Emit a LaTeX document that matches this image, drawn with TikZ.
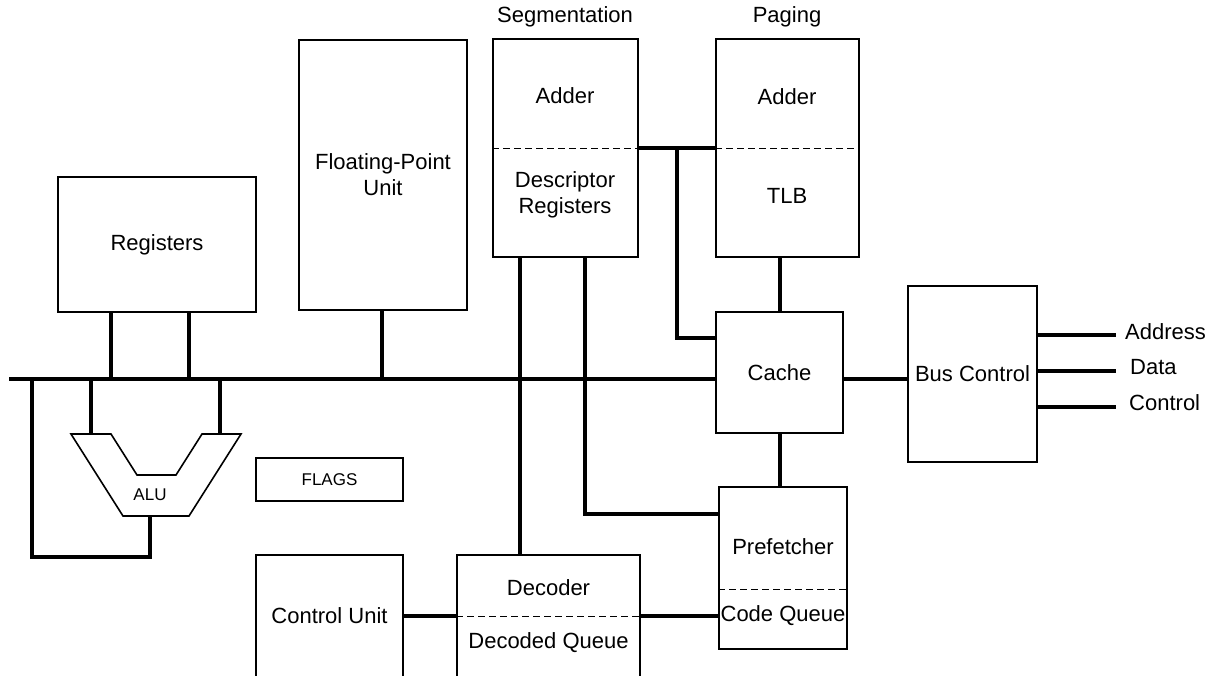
\documentclass[tikz,border=0pt]{standalone}
\usepackage{fontspec}
\setmainfont{Liberation Sans}
\usetikzlibrary{positioning,calc}
\tikzset{
  every node/.style={font=\fontsize{22}{26}\selectfont,align=center},
  unit/.style={draw,line width=1.6pt,inner sep=0pt,fill=white},
  smalltext/.style={font=\fontsize{17}{20}\selectfont},
  wire/.style={line width=4pt},
  divider/.style={line width=0.8pt,dash pattern=on 7pt off 4pt},
  outline/.style={line width=1.6pt,line join=miter},
  pinlabel/.style={anchor=west,inner sep=0pt}
}

\begin{document}
\begin{tikzpicture}[x=1pt,y=-1pt]
  \useasboundingbox (0,0) rectangle (1222,675);
  \clip (0,0) rectangle (1222,675);

  % functional units
  \node[unit,minimum width=198pt,minimum height=135pt] (regs) at (157,244.5) {Registers};
  \node[unit,minimum width=168pt,minimum height=270pt] (fpu) at (383,175) {Floating-Point\\Unit};
  \node[unit,minimum width=145pt,minimum height=218pt] (seg) at (565.5,148) {};
  \node[unit,minimum width=143pt,minimum height=218pt] (pag) at (787.5,148) {};
  \node[unit,minimum width=127pt,minimum height=121pt] (cache) at (779.5,372.5) {Cache};
  \node[unit,minimum width=129pt,minimum height=176pt] (busctl) at (972.5,374) {Bus Control};
  \node[unit,smalltext,minimum width=147pt,minimum height=43pt] (flags) at (329.5,479.5) {FLAGS};
  \node[unit,minimum width=147pt,minimum height=122pt] (ctrl) at (329.5,616) {Control Unit};
  \node[unit,minimum width=183pt,minimum height=122pt] (dec) at (548.5,616) {};
  \node[unit,minimum width=128pt,minimum height=162pt] (pref) at (783,568) {};

  % titles and inner labels
  \node (seglbl) at (565,17) {Segmentation};
  \node (paglbl) at (787,17) {Paging};
  \node (segadd) at (565,96) {Adder};
  \node (segdesc) at (565,195) {Descriptor\\Registers};
  \node (pagadd) at (787,97) {Adder};
  \node (tlb) at (787,196) {TLB};
  \node (decname) at (548.5,588) {Decoder};
  \node (decq) at (548.5,643) {Decoded Queue};
  \node (prefname) at (783,547) {Prefetcher};
  \node (codeq) at (783,616) {Code Queue};

  \coordinate (prefdiv) at (783,589);
  \draw[divider] (seg.west) -- (seg.east);
  \draw[divider] (pag.west) -- (pag.east);
  \draw[divider] (dec.west) -- (dec.east);
  \draw[divider] (pref.west |- prefdiv) -- (pref.east |- prefdiv);

  % internal bus
  \coordinate (busstart) at (9,379);
  \coordinate (rtap1) at (111,379);
  \coordinate (rtap2) at (189,379);
  \coordinate (ftap) at (382,379);
  \draw[wire] (busstart) -- (cache.west |- busstart);
  \draw[wire] (regs.south -| rtap1) -- (rtap1);
  \draw[wire] (regs.south -| rtap2) -- (rtap2);
  \draw[wire] (fpu.south -| ftap) -- (ftap);

  % ALU
  \coordinate (ain1) at (91,434);
  \coordinate (ain2) at (220,434);
  \coordinate (aout) at (150,516);
  \coordinate (afb) at (32,557);
  \draw[outline] (71,434) -- (111,434) -- (137,475) -- (176,475) -- (202,434)
    -- (241,434) -- (189,516) -- (123,516) -- cycle;
  \node[smalltext] (alu) at (150,495) {ALU};
  \draw[wire] (ain1 |- busstart) -- (ain1);
  \draw[wire] (ain2 |- busstart) -- (ain2);
  \draw[wire] (aout) |- (afb) -- (afb |- busstart);

  % address path
  \coordinate (segjoin) at (677,148);
  \coordinate (cachein) at (716,338);
  \coordinate (dtap) at (520,555);
  \coordinate (ptap) at (585,514);
  \draw[wire] (seg.east) -- (pag.west);
  \draw[wire] (segjoin) |- (cachein);
  \draw[wire] (seg.south -| dtap) -- (dtap);
  \draw[wire] (seg.south -| ptap) |- (pref.west |- ptap);
  \draw[wire] (pag.south -| cache.north) -- (cache.north);
  \draw[wire] (cache.south) -- (cache.south |- pref.north);
  \draw[wire] (cache.east |- busstart) -- (busctl.west |- busstart);
  \draw[wire] (ctrl.east) -- (dec.west);
  \draw[wire] (dec.east) -- (pref.west |- dec.east);

  % external pins
  \coordinate (addrend) at (1116,335);
  \coordinate (dataend) at (1116,371);
  \coordinate (ctlend) at (1116,407);
  \draw[wire] (busctl.east |- addrend) -- (addrend);
  \draw[wire] (busctl.east |- dataend) -- (dataend);
  \draw[wire] (busctl.east |- ctlend) -- (ctlend);
  \node[pinlabel] (addr) at (1125,332) {Address};
  \node[pinlabel] (data) at (1130,367) {Data};
  \node[pinlabel] (ctl) at (1129,403) {Control};
\end{tikzpicture}
\end{document}
